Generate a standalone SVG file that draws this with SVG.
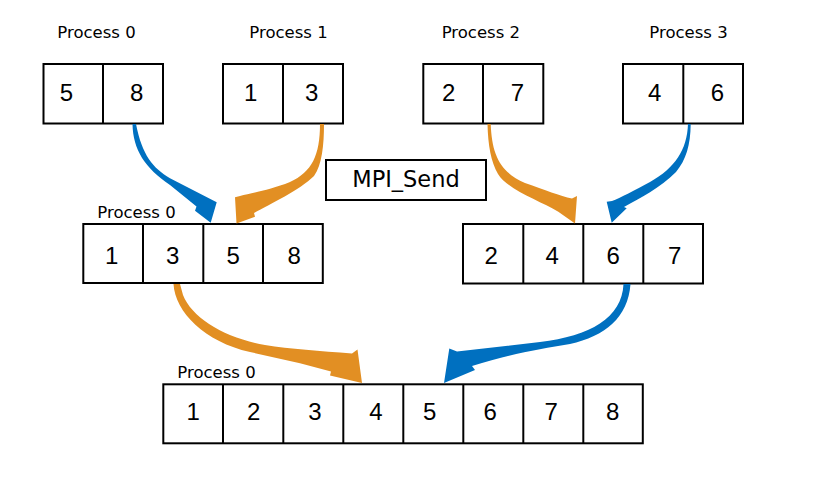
<svg xmlns="http://www.w3.org/2000/svg" width="824" height="487" viewBox="0 0 824 487">
<style>
.box{fill:#fff;stroke:#000;stroke-width:2}
.div{stroke:#000;stroke-width:2}
.d{font-family:"Liberation Sans",Arial,sans-serif;font-size:24px;text-anchor:middle;fill:#000}
.lbl{font-family:"DejaVu Sans",sans-serif;font-size:16.5px;fill:#000}
.mpi{font-family:"DejaVu Sans",sans-serif;font-size:22.5px;text-anchor:middle;fill:#000}
.blue{fill:#0070C0}
.orange{fill:#E28F23}
</style>
<rect width="824" height="487" fill="#fff"/>

<g id="p0-top">
<text class="lbl" x="57.3" y="37.7">Process 0</text>
<rect class="box" x="43.5" y="64" width="119.5" height="59.5"/>
<line class="div" x1="103" y1="64" x2="103" y2="123.5"/>
<text class="d" x="66.5" y="101">5</text>
<text class="d" x="136.7" y="101">8</text>
</g>
<g id="p1-top">
<text class="lbl" x="249.3" y="37.7">Process 1</text>
<rect class="box" x="223" y="64" width="120" height="59.5"/>
<line class="div" x1="283" y1="64" x2="283" y2="123.5"/>
<text class="d" x="250.8" y="101">1</text>
<text class="d" x="311.7" y="101">3</text>
</g>
<g id="p2-top">
<text class="lbl" x="441.7" y="37.7">Process 2</text>
<rect class="box" x="423.3" y="64" width="120" height="59.5"/>
<line class="div" x1="483" y1="64" x2="483" y2="123.5"/>
<text class="d" x="448.8" y="101">2</text>
<text class="d" x="517.5" y="101">7</text>
</g>
<g id="p3-top">
<text class="lbl" x="649.3" y="37.7">Process 3</text>
<rect class="box" x="623" y="64" width="120" height="59.5"/>
<line class="div" x1="683.3" y1="64" x2="683.3" y2="123.5"/>
<text class="d" x="654.7" y="101">4</text>
<text class="d" x="717.5" y="101">6</text>
</g>

<g id="mpi-send">
<rect class="box" x="326" y="160" width="160" height="40"/>
<text class="mpi" x="406" y="187">MPI_Send</text>
</g>

<g id="mid-left">
<text class="lbl" x="97.3" y="217.5">Process 0</text>
<rect class="box" x="83.3" y="224" width="239.5" height="59"/>
<line class="div" x1="143" y1="224" x2="143" y2="283"/>
<line class="div" x1="203.3" y1="224" x2="203.3" y2="283"/>
<line class="div" x1="263" y1="224" x2="263" y2="283"/>
<text class="d" x="111.7" y="263.5">1</text>
<text class="d" x="172.7" y="263.5">3</text>
<text class="d" x="233.3" y="263.5">5</text>
<text class="d" x="294.3" y="263.5">8</text>
</g>
<g id="mid-right">
<rect class="box" x="463" y="224" width="240" height="59.5"/>
<line class="div" x1="523.3" y1="224" x2="523.3" y2="283.5"/>
<line class="div" x1="583.3" y1="224" x2="583.3" y2="283.5"/>
<line class="div" x1="643.3" y1="224" x2="643.3" y2="283.5"/>
<text class="d" x="491.3" y="263.5">2</text>
<text class="d" x="552.3" y="263.5">4</text>
<text class="d" x="613.3" y="263.5">6</text>
<text class="d" x="674.7" y="263.5">7</text>
</g>

<g id="bottom">
<text class="lbl" x="177.3" y="377.7">Process 0</text>
<rect class="box" x="163.3" y="384.3" width="479.5" height="59"/>
<line class="div" x1="223" y1="384.3" x2="223" y2="443.3"/>
<line class="div" x1="283.3" y1="384.3" x2="283.3" y2="443.3"/>
<line class="div" x1="343.3" y1="384.3" x2="343.3" y2="443.3"/>
<line class="div" x1="403.3" y1="384.3" x2="403.3" y2="443.3"/>
<line class="div" x1="463.3" y1="384.3" x2="463.3" y2="443.3"/>
<line class="div" x1="523.3" y1="384.3" x2="523.3" y2="443.3"/>
<line class="div" x1="583.3" y1="384.3" x2="583.3" y2="443.3"/>
<text class="d" x="193.3" y="420">1</text>
<text class="d" x="253.7" y="420">2</text>
<text class="d" x="315" y="420">3</text>
<text class="d" x="376" y="420">4</text>
<text class="d" x="429.7" y="420">5</text>
<text class="d" x="490.3" y="420">6</text>
<text class="d" x="551.2" y="420">7</text>
<text class="d" x="612.7" y="420">8</text>
</g>

<g id="connectors">
<path class="blue" d="M132.5 124 C133 150 145 168 170 185 L196.5 206.5 L195 210.7 L210.7 222.7 L216.7 202.3 L170 178.3 C153 168 142 155 136 124 Z"/>
<path class="orange" d="M320 124 C320 155 312 172 290 182 C270 190 252 193 240 196 L235 197.3 L236.5 223.5 L255 216.7 L254 213 C270 204 300 190 314 176 C322 165 324 145 324 124 Z"/>
<path class="orange" d="M490.7 124 C492 155 500 172 525 183 C545 190 560 196 572 198.5 L577 196 L575 223.5 L558.3 211.7 C540 201 508 190 498 174 C491 162 488 145 487.5 124 Z"/>
<path class="blue" d="M688 124 C687 150 675 168 650 182 C635 190 620 198 612 201 L606.7 201.7 L611.7 222.7 L626.7 208.3 L624 207 C640 198 660 188 676 172 C686 160 690.5 145 690.7 124 Z"/>
<path class="orange" d="M173.5 284 C175 312 205 342 250 352 L300 363.3 L331 371.5 L330 375.5 L362 383 L357.5 349.5 L352 353.5 C320 351 290 349 265 345 C225 338 192 318 183 295 L180 284 Z"/>
<path class="blue" d="M623.5 284 C622 318 590 336 540 342 L457 351.5 L449.3 348.5 L444 383 L475 370 L472 366 C510 354 540 349 570 344 C605 336 628 318 630.5 284 Z"/>
</g>
</svg>
